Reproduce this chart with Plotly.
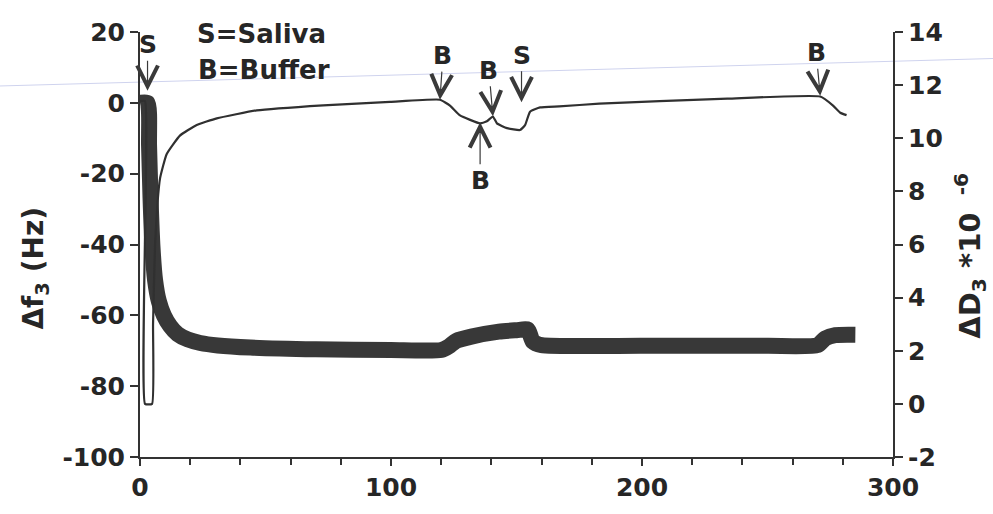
import plotly.graph_objects as go

# Δf3 (Hz) – thick trace, left axis
f_time = [0, 3.0, 3.6, 4.2, 5.0, 6.0, 7.5, 9.5, 12, 15, 19, 24, 31, 44, 70, 100, 120,
          123, 126, 132, 143, 150, 154.5, 156.5, 160, 200, 250, 270, 273, 277, 285]
f_vals = [0, 0, -12, -27, -41, -50, -56, -60, -63, -65.3, -66.8, -67.8, -68.5, -69.1, -69.6, -69.8, -69.8,
          -68.8, -67.2, -66, -64.6, -64.2, -64, -67.4, -68.4, -68.6, -68.6, -68.4, -66.5, -65.6, -65.5]

# ΔD3 *10^-6 – thin trace, right axis
d_time = [0, 2, 2, 4.8, 5.2, 6, 7, 8, 10.6, 15.9, 22.6, 30.6, 46.5, 73, 99.6, 119.5,
          123.5, 127.5, 135.5, 138.2, 140.6, 142.2, 146.2, 151.4, 153.4, 155.4, 159.4,
          167, 183, 207, 234, 271, 276, 279, 281.5]
d_vals = [11.4, 11.4, 0, 0, 3, 6, 7.6, 8.5, 9.4, 10.1, 10.5, 10.75, 11.05, 11.24, 11.37, 11.45,
          11.23, 10.86, 10.56, 10.64, 10.82, 10.56, 10.38, 10.31, 10.49, 11.0, 11.16,
          11.2, 11.3, 11.4, 11.49, 11.57, 11.24, 10.96, 10.87]

# tick labels (plain hyphen minus as in the original)
x_ticks = [0, 100, 200, 300]
x_text = ["0", "100", "200", "300"]
yl_ticks = [-100, -80, -60, -40, -20, 0, 20]
yl_text = ["-100", "-80", "-60", "-40", "-20", "0", "20"]
yr_ticks = [-2, 0, 2, 4, 6, 8, 10, 12, 14]
yr_text = ["-2", "0", "2", "4", "6", "8", "10", "12", "14"]

# event markers: label, time, Δf level at arrow tip, label offset (px)
ev_labels = ["S", "B", "B", "B", "S", "B"]
ev_time = [3, 119.5, 140.6, 135.5, 152, 271]
ev_level = [3.4, 0.9, -3.8, -5.5, 0.2, 2.0]
ev_ax = [0, 3, -4, 0, 0, -4]
ev_ay = [-46, -44, -46, 58, -47, -43]

FONT = "DejaVu Sans"
TXT = "#262626"
LINE = "#333333"

fig = go.Figure()
fig.add_trace(go.Scatter(x=f_time, y=f_vals, mode="lines",
                         line=dict(color="#383838", width=16, shape="spline", smoothing=0.6),
                         yaxis="y", showlegend=False))
fig.add_trace(go.Scatter(x=d_time, y=d_vals, mode="lines",
                         line=dict(color="#303030", width=2.2, shape="spline", smoothing=0.4),
                         yaxis="y2", showlegend=False))

tickfont = dict(family=FONT, size=25, color=TXT, weight="bold")

fig.update_layout(
    width=993, height=514,
    margin=dict(l=140, r=100, t=32, b=49),
    paper_bgcolor="white", plot_bgcolor="white",
    xaxis=dict(range=[0, 300], tickvals=x_ticks, ticktext=x_text,
               showgrid=False, zeroline=False,
               showline=True, linecolor=LINE, linewidth=2,
               ticks="outside", ticklen=7, tickwidth=2, tickcolor=LINE,
               minor=dict(dtick=20, ticks="outside", ticklen=6, tickwidth=1.5, tickcolor=LINE),
               tickfont=tickfont),
    yaxis=dict(range=[-100, 20], tickvals=yl_ticks, ticktext=yl_text,
               showgrid=False, zeroline=False,
               showline=True, linecolor=LINE, linewidth=2,
               ticks="outside", ticklen=8, tickwidth=2, tickcolor=LINE,
               tickfont=tickfont),
    yaxis2=dict(range=[-2, 14], tickvals=yr_ticks, ticktext=yr_text,
                overlaying="y", side="right",
                showgrid=False, zeroline=False,
                showline=True, linecolor=LINE, linewidth=2,
                ticks="outside", ticklen=8, tickwidth=2, tickcolor=LINE,
                tickfont=tickfont),
)

annots = []
for lab, t, lv, ax, ay in zip(ev_labels, ev_time, ev_level, ev_ax, ev_ay):
    annots.append(dict(x=t, y=lv, xref="x", yref="y", text=lab, showarrow=True,
                       ax=ax, ay=ay, arrowhead=5, arrowsize=3.4, arrowwidth=1.2,
                       arrowcolor="#3a3a3a", standoff=0,
                       font=dict(family=FONT, size=25, color=TXT, weight="bold")))

annots += [
    dict(xref="paper", yref="paper", x=(195 - 140) / 753, y=(465 - 34) / 433,
         xanchor="left", yanchor="middle", showarrow=False, text="S=Saliva",
         font=dict(family=FONT, size=26, color=TXT, weight="bold")),
    dict(xref="paper", yref="paper", x=(196 - 140) / 753, y=(465 - 71) / 433,
         xanchor="left", yanchor="middle", showarrow=False, text="B=Buffer",
         font=dict(family=FONT, size=26, color=TXT, weight="bold")),
    dict(xref="paper", yref="paper", x=(36 - 140) / 753, y=(465 - 273) / 433,
         xanchor="center", yanchor="middle", showarrow=False, textangle=-90,
         text="Δf<sub>3</sub> (Hz)",
         font=dict(family=FONT, size=28, color=TXT, weight="bold")),
    dict(xref="paper", yref="paper", x=(970 - 140) / 753, y=(465 - 260) / 433,
         xanchor="center", yanchor="middle", showarrow=False, textangle=-90,
         text="ΔD<sub>3</sub> *10 <sup> -6</sup>",
         font=dict(family=FONT, size=29, color=TXT, weight="bold")),
]
fig.update_layout(annotations=annots)

# faint scan line across the page
fig.add_shape(type="line", xref="paper", yref="paper",
              x0=-140 / 753, x1=(993 - 140) / 753,
              y0=(465 - 87) / 433, y1=(465 - 59) / 433,
              line=dict(color="#cfd3ee", width=1), layer="below")

fig.write_html("out.html")
